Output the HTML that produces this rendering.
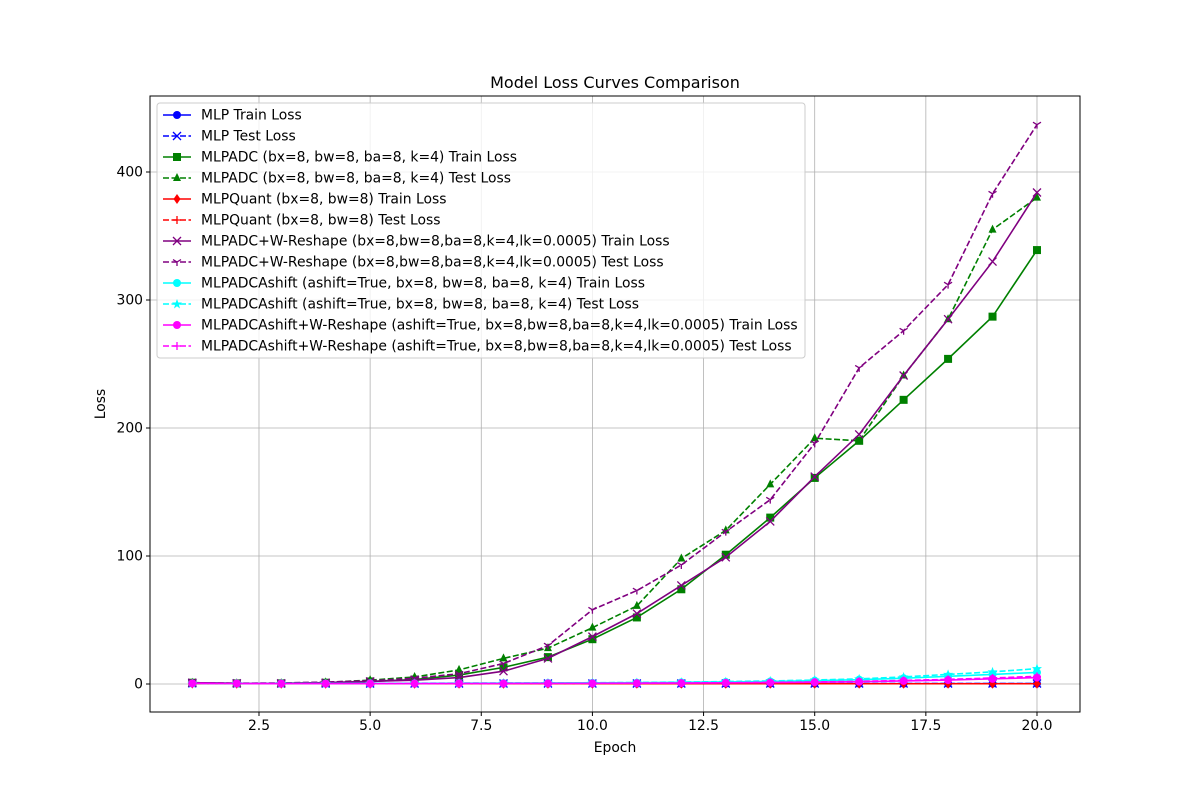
<!DOCTYPE html>
<html><head><meta charset="utf-8"><style>body{margin:0;background:#fff}svg text{font-family:"DejaVu Sans","Liberation Sans",sans-serif}</style></head>
<body>
<svg id="c" width="1200" height="800" xmlns="http://www.w3.org/2000/svg"></svg>
<script>
const epochs=[1,2,3,4,5,6,7,8,9,10,11,12,13,14,15,16,17,18,19,20];
const mlpTrain=[0.8,0.5,0.4,0.4,0.3,0.3,0.3,0.3,0.3,0.3,0.3,0.3,0.3,0.3,0.3,0.3,0.3,0.3,0.3,0.3];
const mlpTest=[0.6,0.5,0.4,0.4,0.4,0.4,0.4,0.4,0.4,0.4,0.4,0.4,0.4,0.4,0.4,0.4,0.4,0.4,0.4,0.4];
const adcTrain=[1,0.5,0.5,1,2,3.5,7,13,21,35,52,74,101,130,161,190,222,254,287,339];
const adcTest=[1,0.6,0.7,1.3,3,5.5,11,20,28,44,61,98,120,156,192,190,241,285,355,380];
const quantTrain=[0.3,0.2,0.2,0.2,0.2,0.2,0.2,0.2,0.2,0.2,0.2,0.2,0.2,0.2,0.2,0.2,0.2,0.2,0.2,0.2];
const quantTest=[0.3,0.2,0.2,0.2,0.2,0.2,0.2,0.2,0.2,0.2,0.2,0.2,0.2,0.2,0.2,0.2,0.2,0.2,0.2,0.2];
const wrTrain=[1,0.5,0.5,1,2,3,5,10,20,37,55,77,99,127,162,195,241,285,330,384];
const wrTest=[1,0.6,0.8,1.5,2.5,4.5,8,16,30,58,73,93,119,144,188,247,276,312,383,437];
const ashTrain=[0.5,0.4,0.4,0.4,0.5,0.5,0.6,0.7,0.8,0.9,1,1.3,1.6,2,2.6,3.4,4.5,6,7.5,9];
const ashTest=[0.5,0.4,0.4,0.4,0.5,0.6,0.7,0.8,0.9,1,1.2,1.5,1.9,2.4,3.1,4,5.5,7.5,9.5,12];
const ashWrTrain=[0.5,0.4,0.3,0.3,0.3,0.3,0.4,0.4,0.5,0.5,0.6,0.7,0.9,1.1,1.4,1.8,2.4,3.1,4,5];
const ashWrTest=[0.5,0.4,0.3,0.3,0.3,0.4,0.4,0.5,0.5,0.6,0.7,0.8,1,1.3,1.6,2.1,2.8,3.6,4.7,6];
const xTicks=[2.5,5.0,7.5,10.0,12.5,15.0,17.5,20.0];
const yTicks=[0,100,200,300,400];
const labels=["MLP Train Loss","MLP Test Loss","MLPADC (bx=8, bw=8, ba=8, k=4) Train Loss","MLPADC (bx=8, bw=8, ba=8, k=4) Test Loss","MLPQuant (bx=8, bw=8) Train Loss","MLPQuant (bx=8, bw=8) Test Loss","MLPADC+W-Reshape (bx=8,bw=8,ba=8,k=4,lk=0.0005) Train Loss","MLPADC+W-Reshape (bx=8,bw=8,ba=8,k=4,lk=0.0005) Test Loss","MLPADCAshift (ashift=True, bx=8, bw=8, ba=8, k=4) Train Loss","MLPADCAshift (ashift=True, bx=8, bw=8, ba=8, k=4) Test Loss","MLPADCAshift+W-Reshape (ashift=True, bx=8,bw=8,ba=8,k=4,lk=0.0005) Train Loss","MLPADCAshift+W-Reshape (ashift=True, bx=8,bw=8,ba=8,k=4,lk=0.0005) Test Loss"];
const series=[mlpTrain,mlpTest,adcTrain,adcTest,quantTrain,quantTest,wrTrain,wrTest,ashTrain,ashTest,ashWrTrain,ashWrTest];
const colors=["blue","blue","green","green","red","red","purple","purple","cyan","cyan","magenta","magenta"];
const markers=["o","x","s","^","d","+","x","1","p","*","h","4"];
const X0=150,X1=1080,Y0=96,Y1=712;
const xs=v=>192.3+(v-1)*(1037-259)/17.5;
const ys=v=>684-v*1.28;
const svg=document.getElementById('c');
const NS="http://www.w3.org/2000/svg";
function mk(t,a,p){const e=document.createElementNS(NS,t);for(const k in a)e.setAttribute(k,a[k]);(p||svg).appendChild(e);return e;}
function txt(s,a,p){const e=mk('text',a,p);e.textContent=s;return e;}
xTicks.forEach(t=>{const l=mk('line',{x1:xs(t),x2:xs(t),y1:Y0,y2:Y1,stroke:'#b0b0b0','stroke-width':0.8});


mk('line',{x1:xs(t),x2:xs(t),y1:Y1,y2:Y1+4,stroke:'#000'});
const tl=txt(t.toFixed(1),{x:xs(t),y:Y1+18,'text-anchor':'middle','font-size':13.9});

});
yTicks.forEach(t=>{const l=mk('line',{x1:X0,x2:X1,y1:ys(t),y2:ys(t),stroke:'#b0b0b0','stroke-width':0.8});


mk('line',{x1:X0-4,x2:X0,y1:ys(t),y2:ys(t),stroke:'#000'});
const tl=txt(String(t),{x:X0-7,y:ys(t)+4.5,'text-anchor':'end','font-size':13.9});

});
function marker(g,m,x,y,c){const r=4;
 if(m=='o'||m=='h'||m=='p')mk('circle',{cx:x,cy:y,r:r,fill:c},g);
 else if(m=='s')mk('rect',{x:x-r,y:y-r,width:2*r,height:2*r,fill:c},g);
 else if(m=='^')mk('polygon',{points:`${x},${y-r-1} ${x-r},${y+r-1} ${x+r},${y+r-1}`,fill:c},g);
 else if(m=='d')mk('polygon',{points:`${x},${y-5} ${x-3.5},${y} ${x},${y+5} ${x+3.5},${y}`,fill:c},g);
 else if(m=='*')mk('polygon',{points:`${x},${y-5} ${x+1.3},${y-1.5} ${x+5},${y-1.5} ${x+2},${y+1} ${x+3},${y+4.5} ${x},${y+2.3} ${x-3},${y+4.5} ${x-2},${y+1} ${x-5},${y-1.5} ${x-1.3},${y-1.5}`,fill:c},g);
 else if(m=='x')mk('path',{d:`M${x-r} ${y-r}L${x+r} ${y+r}M${x-r} ${y+r}L${x+r} ${y-r}`,stroke:c,'stroke-width':1.3},g);
 else if(m=='+'||m=='4')mk('path',{d:`M${x-r} ${y}L${x+r} ${y}M${x} ${y-r}L${x} ${y+r}`,stroke:c,'stroke-width':1.3},g);
 else if(m=='1')mk('path',{d:`M${x} ${y}L${x} ${y+r}M${x} ${y}L${x-r} ${y-r*0.6}M${x} ${y}L${x+r} ${y-r*0.6}`,stroke:c,'stroke-width':1.3},g);}
series.forEach((s,i)=>{const g=mk('g',{});


mk('polyline',{points:s.map((v,j)=>xs(epochs[j])+','+ys(v)).join(' '),fill:'none',stroke:colors[i],'stroke-width':1.6,'stroke-dasharray':i%2?'6,2.5':'none'},g);
s.forEach((v,j)=>marker(g,markers[i],xs(epochs[j]),ys(v),colors[i]));});
mk('rect',{x:X0,y:Y0,width:X1-X0,height:Y1-Y0,fill:'none',stroke:'#000','stroke-width':1});
const lg=mk('g',{});


mk('rect',{x:157,y:103,width:648,height:255,fill:'#fff','fill-opacity':0.8,stroke:'#ccc',rx:3},lg);
labels.forEach((l,i)=>{const y=115+i*21;const e=mk('g',{},lg);


mk('line',{x1:163,x2:191,y1:y,y2:y,stroke:colors[i],'stroke-width':1.6,'stroke-dasharray':i%2?'6,2.5':'none'},e);
marker(e,markers[i],177,y,colors[i]);
txt(l,{x:201,y:y+4.5,'font-size':13.9},e);});
const t=txt('Model Loss Curves Comparison',{x:615,y:88,'text-anchor':'middle','font-size':16});

const xl=txt('Epoch',{x:615,y:752,'text-anchor':'middle','font-size':13.9});

const yl=txt('Loss',{x:105,y:404,'text-anchor':'middle','font-size':13.9,transform:'rotate(-90 105 404)'});

</script>
</body></html>
